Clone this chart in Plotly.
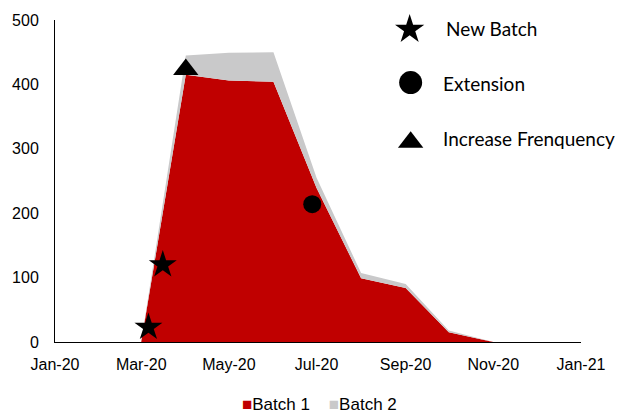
import plotly.graph_objects as go

# ---- data ----
dates = ["2020-03-01", "2020-04-01", "2020-05-01", "2020-06-01", "2020-07-01",
         "2020-08-01", "2020-09-01", "2020-10-01", "2020-11-01"]
batch1 = [0, 415, 406, 404, 239, 99, 84, 15, 0]
batch2 = [0, 30, 43, 46, 16, 8, 6, 3, 0]

new_batch_dates = ["2020-03-06", "2020-03-16"]
new_batch_vals = [23, 120]
extension_dates = ["2020-06-28"]
extension_vals = [214]
increase_dates = ["2020-04-01"]
increase_vals = [423]

x_tick_vals = ["2020-01-01", "2020-03-01", "2020-05-01", "2020-07-01",
               "2020-09-01", "2020-11-01", "2021-01-01"]
y_tick_vals = [0, 100, 200, 300, 400, 500]

RED = "#C00000"
GREY = "#C9C9CA"
BLACK = "rgb(0,0,0)"

W, H = 620, 416
L, R, T, B = 53, 39, 18, 74
pw = W - L - R
ph = H - T - B

def px(x):
    return (x - L) / pw

def py(y):
    return (H - B - y) / ph

fig = go.Figure()
fig.add_trace(go.Scatter(x=dates, y=batch1, name="Batch 1", mode="none",
                         stackgroup="one", fillcolor=RED, showlegend=False,
                         hoverinfo="skip"))
fig.add_trace(go.Scatter(x=dates, y=batch2, name="Batch 2", mode="none",
                         stackgroup="one", fillcolor=GREY, showlegend=False,
                         hoverinfo="skip"))

fig.add_trace(go.Scatter(x=new_batch_dates, y=new_batch_vals, mode="markers",
                         name="New Batch", showlegend=False, cliponaxis=False,
                         marker=dict(symbol="star", size=21, color=BLACK,
                                     line=dict(width=0))))
fig.add_trace(go.Scatter(x=extension_dates, y=extension_vals, mode="markers",
                         name="Extension", showlegend=False, cliponaxis=False,
                         marker=dict(symbol="circle", size=18, color=BLACK,
                                     line=dict(width=0))))
fig.add_trace(go.Scatter(x=increase_dates, y=increase_vals, mode="markers",
                         name="Increase Frenquency", showlegend=False, cliponaxis=False,
                         marker=dict(symbol="triangle-up", size=22, color=BLACK,
                                     line=dict(width=0))))

# key markers for the top-right legend (on an overlay axis in paper units)
key_symbols = ["star", "circle", "triangle-up"]
key_sizes = [22, 23, 22]
key_x = [px(409), px(410), px(410)]
key_y = [py(27.5), py(81), py(141)]
for sym, sz, kx, ky in zip(key_symbols, key_sizes, key_x, key_y):
    fig.add_trace(go.Scatter(x=[kx], y=[ky], mode="markers", xaxis="x2", yaxis="y2",
                             showlegend=False, cliponaxis=False, hoverinfo="skip",
                             opacity=1,
                             marker=dict(symbol=sym, size=sz, color=BLACK, opacity=1,
                                         line=dict(width=0))))

key_labels = ["New Batch", "Extension", "Increase Frenquency"]
key_lx = [443, 440.5, 440.5]
key_ly = [27, 82, 137]
annotations = []
for lab, lx, ly in zip(key_labels, key_lx, key_ly):
    annotations.append(dict(text=lab, x=px(lx), y=py(ly), xref="paper", yref="paper",
                            xanchor="left", yanchor="middle", showarrow=False,
                            font=dict(family="Lato", size=19, color="black")))

gap = "\u00a0" * 4
legend_text = (f'<span style="color:{RED}">■</span>Batch 1{gap}'
               f'<span style="color:{GREY}">■</span>Batch 2')
annotations.append(dict(text=legend_text, x=px(319), y=py(405), xref="paper",
                        yref="paper", xanchor="center", yanchor="middle",
                        showarrow=False,
                        font=dict(family="Liberation Sans", size=17, color="black")))

fig.update_layout(
    width=W, height=H,
    margin=dict(l=L, r=R, t=T, b=B),
    paper_bgcolor="white", plot_bgcolor="white",
    showlegend=False,
    hovermode=False,
    font=dict(family="Liberation Sans", size=16, color="black"),
    xaxis=dict(range=["2020-01-01", "2021-01-01"], tickvals=x_tick_vals,
               tickformat="%b-%y", showgrid=False, zeroline=False,
               showline=True, linecolor="black", linewidth=1, ticks="",
               ticklabelstandoff=8, tickfont=dict(size=16)),
    yaxis=dict(range=[0, 500], tickvals=y_tick_vals, showgrid=False,
               zeroline=False, showline=True, linecolor="black", linewidth=1,
               ticks="", ticklabelstandoff=12, tickfont=dict(size=16)),
    xaxis2=dict(overlaying="x", range=[0, 1], visible=False, fixedrange=True),
    yaxis2=dict(overlaying="y", range=[0, 1], visible=False, fixedrange=True),
    annotations=annotations,
)

fig.write_html("out.html", config={"displayModeBar": False},
               post_script="document.body.style.margin='0';document.body.style.overflow='hidden';")
